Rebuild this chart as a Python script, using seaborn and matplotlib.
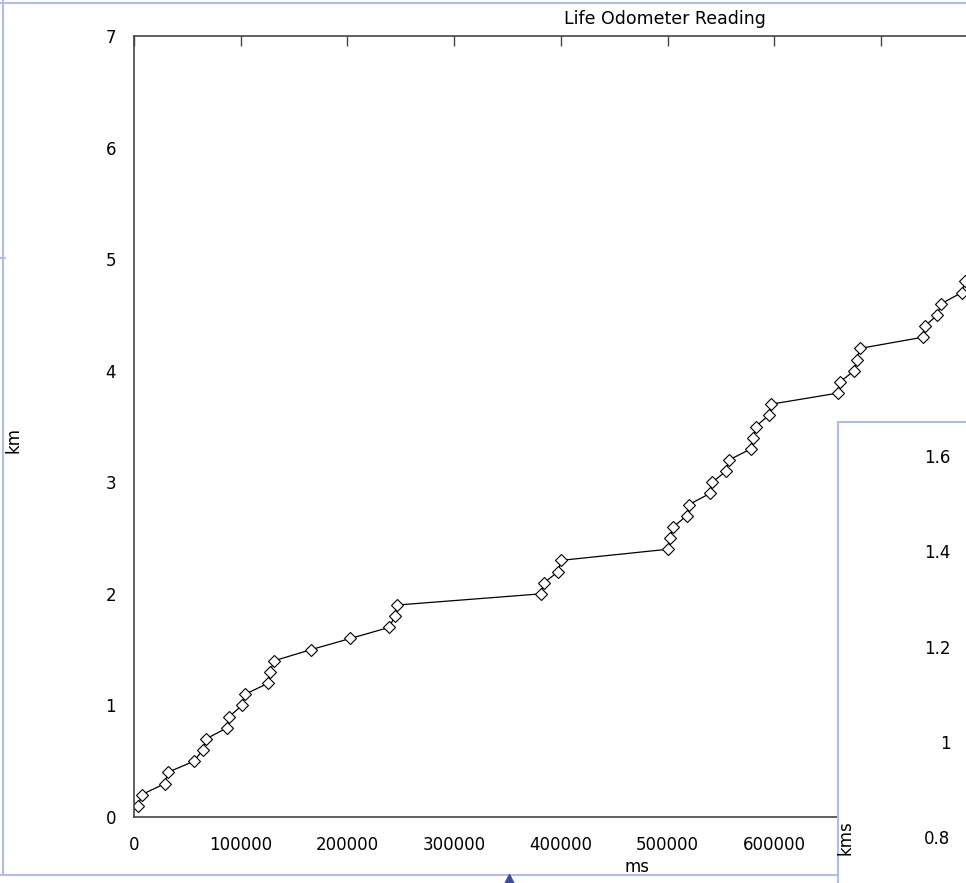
import numpy as np
import matplotlib
matplotlib.use('Agg')
import matplotlib.pyplot as plt
from matplotlib.lines import Line2D
import seaborn as sns

# odometer readings: elapsed time (ms) vs distance (km)
elapsed_ms = [4000, 7200, 29000, 31600, 56200, 64400, 67500, 87400, 89300, 101200,
              104000, 125900, 127500, 131200, 165900, 202700, 239300, 244300, 246800, 381200,
              384300, 397700, 400000, 500500, 502300, 505400, 518000, 520100, 539800, 542000,
              554800, 557600, 578300, 580400, 582700, 594800, 597000, 660100, 661700, 675100,
              677300, 680400, 739200, 741300, 752900, 756300, 775700, 778800]
distance_km = [0.1, 0.2, 0.3, 0.4, 0.5, 0.6, 0.7, 0.8, 0.9, 1.0,
               1.1, 1.2, 1.3, 1.4, 1.5, 1.6, 1.7, 1.8, 1.9, 2.0,
               2.1, 2.2, 2.3, 2.4, 2.5, 2.6, 2.7, 2.8, 2.9, 3.0,
               3.1, 3.2, 3.3, 3.4, 3.5, 3.6, 3.7, 3.8, 3.9, 4.0,
               4.1, 4.2, 4.3, 4.4, 4.5, 4.6, 4.7, 4.8]

x_ticks = [0, 100000, 200000, 300000, 400000, 500000, 600000, 700000, 800000, 900000, 1000000]
# labels past 600000 sit under the second panel, so they stay blank
x_labels = ['0', '100000', '200000', '300000', '400000', '500000', '600000', '', '', '', '']
y_ticks = [0, 1, 2, 3, 4, 5, 6, 7]
speed_ticks = [0.8, 1.0, 1.2, 1.4, 1.6]
speed_labels = ['0.8', '1', '1.2', '1.4', '1.6']

sns.set_style('white')
plt.rcParams['font.family'] = ['DejaVu Sans']
plt.rcParams['font.size'] = 12
plt.rcParams['text.color'] = 'black'
plt.rcParams['xtick.labelcolor'] = 'black'
plt.rcParams['ytick.labelcolor'] = 'black'

W, H = 966, 883
def fx(px):
    return px / W
def fy(py):
    return 1 - py / H

fig = plt.figure(figsize=(W / 100, H / 100), dpi=100)
fig.patch.set_facecolor('white')

# main plot, its right part runs off the canvas
ax = fig.add_axes([fx(134), fy(817), (1201 - 134) / W, (817 - 36) / H])
df = {'ms': elapsed_ms, 'km': distance_km}
sns.lineplot(data=df, x='ms', y='km', ax=ax, color='black', lw=0.9,
             marker='D', ms=5.8, markerfacecolor='white', markeredgecolor='black',
             markeredgewidth=0.8)
ax.set_xlim(0, 1000000)
ax.set_ylim(0, 7)
ax.set_xticks(x_ticks)
ax.set_xticklabels(x_labels)
ax.set_yticks(y_ticks)
ax.set_yticklabels([str(t) for t in y_ticks])
ax.set_xlabel('')
ax.set_ylabel('')
for s in ax.spines.values():
    s.set_color('#444444')
    s.set_linewidth(1.2)
ax.tick_params(direction='in', length=7.5, width=1, color='#444444',
               top=True, right=True, labelsize=12, labelcolor='black')
ax.tick_params(axis='x', pad=14)
ax.tick_params(axis='y', pad=13)

fig.text(fx(665), fy(19), 'Life Odometer Reading', ha='center', va='center', fontsize=12.5)
fig.text(fx(637), fy(867), 'ms', ha='center', va='center', fontsize=12)
fig.text(fx(14), fy(440), 'km', ha='center', va='center', rotation=90, fontsize=12)

blue = '#b3bbea'
# frame of the main panel
for xs, ys in [((0, 966), (3, 3)), ((3, 3), (0, 875)), ((0, 838), (875, 875)), ((0, 5), (258, 258))]:
    fig.add_artist(Line2D([fx(v) for v in xs], [fy(v) for v in ys], color=blue, lw=1.5,
                          transform=fig.transFigure))
fig.add_artist(Line2D([fx(509)], [fy(879)], marker='^', ms=7, color='#3d4a9c',
                      transform=fig.transFigure))

# second panel peeking in at the bottom right
pa = fig.add_axes([fx(838), 0, 0.3, fy(422)])
pa.set_facecolor('white')
pa.set_xticks([])
pa.set_yticks([])
pa.spines['right'].set_visible(False)
pa.spines['bottom'].set_visible(False)
pa.spines['left'].set_color(blue)
pa.spines['top'].set_color(blue)
pa.spines['left'].set_linewidth(1.5)
pa.spines['top'].set_linewidth(1.5)

ia = fig.add_axes([fx(956), 0, 0.3, fy(422)])
ia.patch.set_visible(False)
for s in ia.spines.values():
    s.set_visible(False)
ia.set_ylim(0.8 - (883 - 837) / 476.25, 1.6 + (456 - 422) / 476.25)
ia.set_yticks(speed_ticks)
ia.set_yticklabels(speed_labels)
ia.set_xticks([])
ia.tick_params(axis='y', length=0, pad=4, labelsize=12, labelcolor='black')
fig.text(fx(846), fy(838), 'kms', ha='center', va='center', rotation=90, fontsize=12)

plt.savefig('out.png', dpi=100)
